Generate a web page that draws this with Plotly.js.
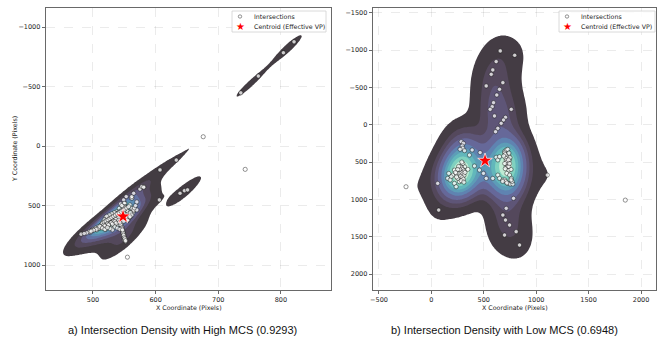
<!DOCTYPE html>
<html><head><meta charset="utf-8">
<script src="https://cdn.plot.ly/plotly-3.0.1.min.js"></script>
<style>html,body{margin:0;padding:0;background:#fff}#chart{width:661px;height:345px}</style>
</head><body><div id="chart"></div>
<script>
// ---------- DATA ----------
// a) High MCS intersections
const highX = [736,764,804,821, 676,743,555, 639,646,651, 633,607,606,
  581,575,561,551,563,564,565,
  481,496,503,512,518,522,528,532,536,538,542,544,549,553,550,562,
  527,530,533,526,532,535,538,541,543,546,549,551,559,562,565,562,565,578,581,570,541,543,538,533,525,520,514,510,506,543,549,
  546,547,548,549,549,550,552,
  545,540,536,531,524,545,540,556,552,556,520,530,
  520,522,525,528,530,533,535,537,539,541,544,546,548,550,552,554,556,558,560,556,554,552,548,546,540,538,534,530,526,522,
  518,516,514,512,508,504,500,498,494,490,486,544,546,547,548,549,550,551,552,540,536,532,528,524,520,560,562,566,568,570,
  515,518,521,524,527,530,533,536,539,542,545,548,551,554,557,517,523,529,535,541,547,553,559,513,519,525,531,537,543,549,555,509,505,501,497,511,515,519,535,539,543,547,531,527,523];
const highY = [-447,-588,-784,-876, -78,196,934, 397,375,369, 118,201,453,
  341,362,433,481,537,560,545,
  741,724,699,688,671,654,635,607,579,551,523,487,453,425,481,439,
  593,607,621,635,579,565,593,579,551,537,523,509,495,523,537,425,397,341,347,537,621,635,649,663,663,677,682,690,705,607,593,
  677,698,719,740,761,789,803,
  600,615,628,645,650,650,660,610,580,570,700,690,
  600,610,620,600,590,580,600,610,630,640,620,610,600,590,600,610,620,600,590,550,540,520,510,500,560,570,560,570,580,590,
  620,640,660,670,680,690,700,710,720,730,735,660,690,710,730,750,770,780,795,600,615,630,645,660,675,560,580,520,500,470,
  650,640,630,620,610,600,590,580,570,560,550,540,530,520,510,665,655,645,635,625,615,605,595,680,672,664,656,648,640,632,624,690,700,708,716,675,690,700,680,690,700,705,705,695,685];
const highCentroid = {x: [548], y: [592]};

// b) Low MCS intersections
const lowX = [657,795,618,586,571,523,682,650,624,593,580,561,602,707,688,666,762,634,612,
  284,306,294,300,316,274,363,411,348,316,294,268,284,300,268,252,236,220,204,188,166,156,179,220,236,60,70,-242,389,465,
  280,290,300,310,290,300,310,280,295,305,285,310,270,320,300,290,260,250,230,240,
  618,634,650,698,714,729,739,720,746,729,714,739,720,746,762,729,752,777,634,650,682,586,
  700,705,710,715,720,725,730,700,705,740,745,750,735,740,690,760,770,700,710,720,680,760,
  784,714,682,707,746,698,809,841, 497,523,459, 1106,1850];
const lowY = [-988,-930,-845,-733,-675,-519,-563,-474,-398,-295,-241,-206,-117,-99,-63,-19,-206,48,94,
  227,249,285,316,348,329,407,553,598,563,608,652,697,741,764,719,652,608,675,697,652,719,741,786,831,786,1143,831,339,373,
  560,580,600,620,640,660,680,690,710,730,750,770,600,640,520,500,560,600,640,700,
  436,472,428,361,339,330,406,428,472,517,563,608,652,675,719,786,795,795,675,719,741,719,
  380,400,450,480,500,540,560,520,590,560,520,440,470,380,420,600,760,740,760,780,760,740,
  986,1120,1210,1277,1344,1478,1433,1612, 652,719,608, 675,1010];
const lowCentroid = {x: [512], y: [482]};

const xTicksHigh = [500,600,700,800];
const yTicksHigh = [-1000,-500,0,500,1000];
const xTicksLow = [-500,0,500,1000,1500,2000];
const yTicksLow = [-1500,-1000,-500,0,500,1000,1500,2000];
const captions = ["a) Intersection Density with High MCS (0.9293)", "b) Intersection Density with Low MCS (0.6948)"];
const legendLabels = ["Intersections", "Centroid (Effective VP)"];
const xTitle = "X Coordinate (Pixels)", yTitle = "Y Coordinate (Pixels)";

// ---------- KDE (Gaussian, Scott bandwidth, full covariance, iso-proportion levels) ----------
const makoStops = [[0,[11,4,5]],[1/7,[46,30,59]],[2/7,[65,61,123]],[3/7,[55,101,158]],[4/7,[52,143,167]],[5/7,[64,183,173]],[6/7,[139,218,178]],[1,[222,245,229]]];
function mako(t){
  t=Math.max(0,Math.min(1,t));
  for(let i=1;i<makoStops.length;i++){
    if(t<=makoStops[i][0]){
      const a=makoStops[i-1], b=makoStops[i]; const f=(t-a[0])/(b[0]-a[0]);
      return a[1].map((v,k)=>v+(b[1][k]-v)*f);
    }
  }
  return makoStops[makoStops.length-1][1];
}
const fillAlpha = 0.8;
function kdeContour(xs, ys, xa, ya){
  const n=xs.length, G=200, cut=3;
  const mx=xs.reduce((a,b)=>a+b)/n, my=ys.reduce((a,b)=>a+b)/n;
  let sxx=0,syy=0,sxy=0;
  for(let i=0;i<n;i++){const dx=xs[i]-mx, dy=ys[i]-my; sxx+=dx*dx; syy+=dy*dy; sxy+=dx*dy;}
  sxx/=(n-1); syy/=(n-1); sxy/=(n-1);
  const f2=Math.pow(n,-1/3);
  const cxx=sxx*f2, cyy=syy*f2, cxy=sxy*f2, det=cxx*cyy-cxy*cxy;
  const ixx=cyy/det, iyy=cxx/det, ixy=-cxy/det;
  const bwx=Math.sqrt(cxx), bwy=Math.sqrt(cyy);
  const x0=Math.min(...xs)-cut*bwx, x1=Math.max(...xs)+cut*bwx;
  const y0=Math.min(...ys)-cut*bwy, y1=Math.max(...ys)+cut*bwy;
  const gx=[],gy=[];
  for(let i=0;i<G;i++){gx.push(x0+(x1-x0)*i/(G-1)); gy.push(y0+(y1-y0)*i/(G-1));}
  const flat=new Float64Array(G*G);
  for(let j=0;j<G;j++) for(let i=0;i<G;i++){
    let s=0;
    for(let k=0;k<n;k++){const dx=gx[i]-xs[k], dy=gy[j]-ys[k]; s+=Math.exp(-0.5*(ixx*dx*dx+2*ixy*dx*dy+iyy*dy*dy));}
    flat[j*G+i]=s;
  }
  const idx=Array.from({length:G*G},(_,i)=>i).sort((a,b)=>flat[a]-flat[b]);
  let total=0; for(const v of flat) total+=v;
  const prop=new Float64Array(G*G);
  const nLev=10, thresh=0.05, qs=[];
  for(let i=0;i<nLev;i++) qs.push(thresh+(1-thresh)*i/(nLev-1));
  const L=new Array(nLev).fill(null);
  let run=0;
  for(const k of idx){
    prop[k]=run/total;
    for(let q=0;q<nLev;q++){ if(L[q]===null && run/total>=qs[q]-1e-12) L[q]=flat[k]; }
    run+=flat[k];
  }
  for(let q=0;q<nLev;q++) if(L[q]===null) L[q]=flat[idx[idx.length-1]];
  const z=[]; for(let j=0;j<G;j++){const r=[]; for(let i=0;i<G;i++) r.push(prop[j*G+i]); z.push(r);}
  const size=(1-thresh)/(nLev-1);
  // Plotly stacks nested fills, so colours are pre-blended with white (opaque)
  const cs=[[0,'rgba(255,255,255,0)']];
  for(let k=0;k<nLev-1;k++){
    const t=((L[k]+L[k+1])/2-L[0])/(L[nLev-1]-L[0]);
    const c=mako(t).map(v=>Math.round(v*fillAlpha+255*(1-fillAlpha)));
    cs.push([0.1*(k+1), `rgb(${c[0]},${c[1]},${c[2]})`]);
  }
  cs.push([1, cs[cs.length-1][1]]);
  return {type:'contour', x:gx, y:gy, z:z, xaxis:xa, yaxis:ya, autocontour:false,
    contours:{start:thresh, end:thresh+size*(nLev-1), size:size, coloring:'fill', showlines:false},
    line:{width:0}, colorscale:cs, showscale:false, hoverinfo:'skip', showlegend:false};
}

const ptsMarker = {size:4.2, color:'rgba(255,255,255,0.75)', line:{color:'rgba(0,0,0,0.6)', width:0.7}};
const starMarker = {symbol:'star', size:11, color:'red', line:{color:'white', width:0.7}};
const traces = [
  kdeContour(highX, highY, 'x', 'y'),
  {type:'scatter', mode:'markers', x:highX, y:highY, xaxis:'x', yaxis:'y', marker:ptsMarker, showlegend:false, hoverinfo:'skip'},
  {type:'scatter', mode:'markers', x:highCentroid.x, y:highCentroid.y, xaxis:'x', yaxis:'y', marker:starMarker, showlegend:false},
  kdeContour(lowX, lowY, 'x2', 'y2'),
  {type:'scatter', mode:'markers', x:lowX, y:lowY, xaxis:'x2', yaxis:'y2', marker:ptsMarker, showlegend:false, hoverinfo:'skip'},
  {type:'scatter', mode:'markers', x:lowCentroid.x, y:lowCentroid.y, xaxis:'x2', yaxis:'y2', marker:starMarker, showlegend:false}
];

const W=661, H=345;
const px=v=>v/W, py=v=>1-v/H;
const tickFont={family:'DejaVu Sans', size:6.5, color:'#222'};
function ax(domain, range, tickvals, anchor){
  return {domain:domain, range:range, tickvals:tickvals, anchor:anchor, showline:true, mirror:true,
    linecolor:'#444', linewidth:0.8, ticks:'outside', ticklen:3.5, tickwidth:0.8, tickcolor:'#444',
    showgrid:true, gridcolor:'rgba(0,0,0,0.13)', griddash:'dash', gridwidth:0.6, zeroline:false,
    tickfont:tickFont, fixedrange:true};
}
const yDom=[py(290), py(8)];
const layout = {
  width:W, height:H, margin:{l:0,r:0,t:0,b:0}, paper_bgcolor:'white', plot_bgcolor:'white', showlegend:false,
  xaxis: ax([px(46),px(331)], [425,880], xTicksHigh, 'y'),
  yaxis: ax(yDom, [1210,-1160], yTicksHigh, 'x'),
  xaxis2: ax([px(373),px(656)], [-557,2143], xTicksLow, 'y2'),
  yaxis2: ax(yDom, [2214,-1563], yTicksLow, 'x2'),
  shapes: [], annotations: []
};
const A=layout.annotations, S=layout.shapes;
function note(x,y,text,font,extra){A.push(Object.assign({xref:'paper',yref:'paper',x:px(x),y:py(y),text:text,showarrow:false,font:font,xanchor:'center',yanchor:'middle'},extra||{}));}
const smallFont={family:'DejaVu Sans', size:6.3, color:'#222'};
note(188.5,307,xTitle,smallFont);
note(514.5,307,xTitle,smallFont);
note(14,149,yTitle,smallFont,{textangle:-90});
const capFont={family:'Liberation Sans, Arial', size:11, color:'#111'};
note(182,330,captions[0],capFont);
note(504,330,captions[1],capFont);
// legends
[[232,326],[559,655]].forEach(([l,r])=>{
  S.push({type:'rect',xref:'paper',yref:'paper',x0:px(l),x1:px(r),y0:py(32),y1:py(11),fillcolor:'rgba(255,255,255,0.85)',line:{color:'#d0d0d0',width:0.8}});
  const sx=l+8;
  S.push({type:'circle',xref:'paper',yref:'paper',x0:px(sx-1.7),x1:px(sx+1.7),y0:py(18.2),y1:py(14.8),fillcolor:'white',line:{color:'rgba(0,0,0,0.6)',width:0.7}});
  note(sx,26.3,'★',{family:'DejaVu Sans',size:10,color:'red'});
  note(l+20,16.5,legendLabels[0],smallFont,{xanchor:'left'});
  note(l+20,26.3,legendLabels[1],smallFont,{xanchor:'left'});
});
Plotly.newPlot('chart', traces, layout, {staticPlot:true, displayModeBar:false});
</script>
</body></html>
